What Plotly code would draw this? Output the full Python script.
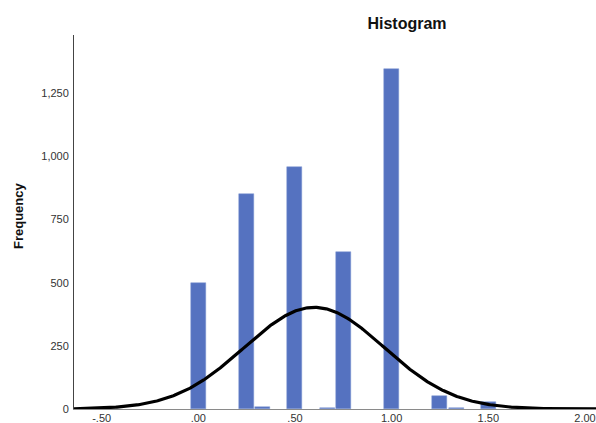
import numpy as np
import plotly.graph_objects as go

# Histogram bin centres (bin width 1/12) and their frequencies
bin_width = 1.0 / 12.0
bin_centers = [0.0, 0.25, 1.0 / 3.0, 0.5, 2.0 / 3.0, 0.75, 1.0, 1.25, 4.0 / 3.0, 1.5]
frequencies = [498, 853, 8, 958, 5, 620, 1347, 50, 5, 28]

x_tick_vals = [-0.5, 0.0, 0.5, 1.0, 1.5, 2.0]
x_tick_text = ["-.50", ".00", ".50", "1.00", "1.50", "2.00"]
y_tick_vals = [0, 250, 500, 750, 1000, 1250]

# Fitted normal curve scaled to the histogram counts
centers = np.array(bin_centers)
counts = np.array(frequencies, dtype=float)
n_total = counts.sum()
mean = (centers * counts).sum() / n_total
sd = np.sqrt(((centers - mean) ** 2 * counts).sum() / (n_total - 1))

x_min, x_max = -0.643, 2.057
xs = np.linspace(x_min, x_max, 500)
ys = n_total * bin_width / (sd * np.sqrt(2 * np.pi)) * np.exp(-0.5 * ((xs - mean) / sd) ** 2)

fig = go.Figure()
fig.add_trace(go.Bar(
    x=bin_centers, y=frequencies, width=bin_width * 0.93,
    marker=dict(color="#5572C0", line=dict(color="#7F97D2", width=0.5)),
    showlegend=False, hoverinfo="skip",
))
fig.add_trace(go.Scatter(
    x=xs, y=ys, mode="lines", line=dict(color="black", width=3.2),
    showlegend=False, hoverinfo="skip",
))

font_family = "Liberation Sans, Arial, sans-serif"
fig.update_layout(
    width=596, height=423,
    margin=dict(l=74, r=0, t=35, b=14),
    paper_bgcolor="white", plot_bgcolor="white",
    font=dict(family=font_family, size=11, color="#333333"),
    bargap=0,
    title=dict(
        text="<b>Histogram</b>", x=407 / 596, xref="container", xanchor="center",
        y=1 - 23 / 423, yref="container", yanchor="middle",
        font=dict(family=font_family, size=16, color="#111111"),
    ),
    xaxis=dict(
        range=[x_min, x_max], tickvals=x_tick_vals, ticktext=x_tick_text,
        showgrid=False, zeroline=False, showline=True, linecolor="#8a8a8a", linewidth=1,
        ticks="", ticklen=0, automargin=False, ticklabeloverflow="allow",
        ticklabelstandoff=-1, tickfont=dict(size=11, color="#333333"),
    ),
    yaxis=dict(
        range=[0, 1481], tickvals=y_tick_vals, tickformat=",",
        showgrid=False, zeroline=False, showline=True, linecolor="#444444", linewidth=1,
        ticks="", ticklen=0, automargin=False, ticklabelstandoff=2,
        tickfont=dict(size=11, color="#333333"),
    ),
    annotations=[dict(
        text="<b>Frequency</b>", textangle=-90, xref="paper", yref="paper",
        x=(18 - 74) / 522, y=(409 - 216) / 374, xanchor="center", yanchor="middle",
        showarrow=False, font=dict(family=font_family, size=13, color="#111111"),
    )],
)

fig.write_html("out.html")
